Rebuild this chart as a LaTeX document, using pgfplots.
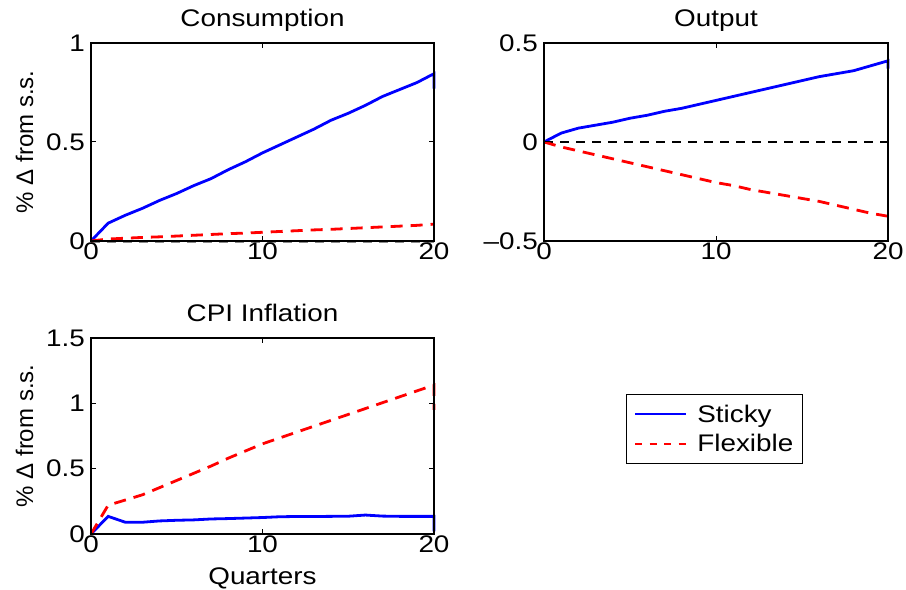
\documentclass[border=0pt]{standalone}
\usepackage{fontspec}
\setmainfont{Liberation Sans}[FakeStretch=1.16]
\usepackage{pgfplots}
\pgfplotsset{compat=1.18}

\newcommand\tfont{\fontsize{24bp}{28bp}\selectfont}
\newcommand\ylab{\node[rotate=90, anchor=base, inner sep=0pt, font=\tfont]
  at (axis description cs:-0.169,0.5) {\scalebox{0.862}[1]{\% Δ from s.s.}};}

\pgfplotsset{
  mat/.style={
    scale only axis, width=343bp, height=198bp,
    xmin=0, xmax=20, xtick={0,10,20},
    axis on top, clip=false,
    axis line style={line width=1.2bp},
    tick align=inside, tick pos=both,
    major tick length=5bp,
    every tick/.style={black, line width=1bp},
    /pgf/number format/assume math mode=true,
    tick label style={font=\tfont},
    xticklabel style={inner sep=0pt, yshift=-1.5bp},
    yticklabel style={inner sep=0pt, xshift=-6bp},
    title style={font=\tfont, at={(0.5,1)}, anchor=base, yshift=11bp},
  },
  sticky/.style={blue, line width=2.8bp},
  flex/.style={red, line width=2.8bp, dash pattern=on 12bp off 8bp},
  zline/.style={black, line width=1.2bp, dash pattern=on 9bp off 7bp, forget plot},
}

\begin{document}
\begin{tikzpicture}
\useasboundingbox (0,0) rectangle (906bp,590bp);

% Consumption
\begin{axis}[mat, at={(91bp,349bp)}, anchor=south west,
  ymin=0, ymax=1, ytick={0,0.5,1},
  title={Consumption}]
\addplot[zline, black!45, yshift=-1.5bp] coordinates {(0,0) (20,0)};
\addplot[sticky] coordinates {
(0,0) (1,0.09) (2,0.13) (3,0.165) (4,0.205) (5,0.24) (6,0.28) (7,0.315)
(8,0.36) (9,0.40) (10,0.445) (11,0.485) (12,0.525) (13,0.565) (14,0.61)
(15,0.645) (16,0.685) (17,0.73) (18,0.765) (19,0.80) (20,0.845) (20,0.77)};
\addplot[flex] coordinates {
(0,0) (1,0.01) (2,0.014) (3,0.018) (4,0.021) (5,0.025) (6,0.029) (7,0.033)
(8,0.037) (9,0.040) (10,0.044) (11,0.048) (12,0.052) (13,0.056) (14,0.059)
(15,0.063) (16,0.067) (17,0.071) (18,0.075) (19,0.079) (20,0.085)};
\ylab
\end{axis}

% Output
\begin{axis}[mat, at={(544bp,349bp)}, anchor=south west, width=344bp,
  ymin=-0.5, ymax=0.5, ytick={-0.5,0,0.5}, yticklabels={--0.5,0,0.5},
  title={Output}]
\addplot[zline] coordinates {(0,0) (20,0)};
\addplot[sticky] coordinates {
(0,0) (1,0.045) (2,0.07) (3,0.085) (4,0.10) (5,0.12) (6,0.135) (7,0.155)
(8,0.17) (9,0.19) (10,0.21) (11,0.23) (12,0.25) (13,0.27) (14,0.29)
(15,0.31) (16,0.33) (17,0.345) (18,0.36) (19,0.385) (20,0.41) (20,0.37)};
\addplot[flex] coordinates {
(0,0) (1,-0.025) (2,-0.045) (3,-0.065) (4,-0.085) (5,-0.105) (6,-0.125)
(7,-0.145) (8,-0.165) (9,-0.185) (10,-0.205) (11,-0.22) (12,-0.24)
(13,-0.255) (14,-0.27) (15,-0.285) (16,-0.30) (17,-0.32) (18,-0.34)
(19,-0.36) (20,-0.375)};
\end{axis}

% CPI Inflation
\begin{axis}[mat, at={(91bp,56bp)}, anchor=south west, height=196bp,
  ymin=0, ymax=1.5, ytick={0,0.5,1,1.5},
  title={CPI Inflation},
  xlabel={Quarters},
  xlabel style={font=\tfont, at={(axis description cs:0.5,-0.26)}, anchor=base},
  legend cell align=left,
  legend image code/.code={\draw[#1] (3bp,0bp) -- (54bp,0bp);},
  legend style={at={(axis description cs:1.5598,0.714)}, anchor=north west,
    draw=black, line width=1.2bp, inner xsep=7bp, inner ysep=8bp,
    font=\tfont, row sep=7bp, column sep=8bp}]
\addlegendimage{blue, line width=2.8bp}
\addlegendentry{Sticky}
\addlegendimage{red, line width=2.8bp, dash pattern=on 7bp off 7.5bp}
\addlegendentry{Flexible}
\addplot[zline] coordinates {(0,0) (20,0)};
\addplot[sticky, forget plot] coordinates {
(0,0) (1,0.135) (2,0.09) (3,0.09) (4,0.10) (5,0.105) (6,0.108) (7,0.115)
(8,0.118) (9,0.122) (10,0.126) (11,0.132) (12,0.134) (13,0.134) (14,0.135)
(15,0.136) (16,0.145) (17,0.137) (18,0.135) (19,0.135) (20,0.135) (20,0.02)};
\addplot[flex, forget plot] coordinates {
(0,0) (1,0.22) (2,0.26) (3,0.30) (4,0.355) (5,0.41) (6,0.465) (7,0.52)
(8,0.58) (9,0.635) (10,0.69) (11,0.735) (12,0.78) (13,0.825) (14,0.87)
(15,0.915) (16,0.96) (17,1.005) (18,1.05) (19,1.095) (20,1.14) (20,0.95)};
\ylab
\end{axis}
\end{tikzpicture}
\end{document}
